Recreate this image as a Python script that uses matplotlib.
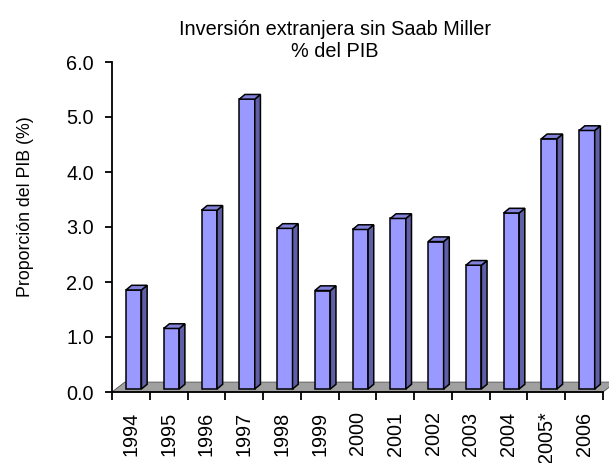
import matplotlib
matplotlib.use("Agg")
import matplotlib.pyplot as plt
from matplotlib.patches import Polygon

plt.rcParams['font.family'] = ['Liberation Sans', 'DejaVu Sans']

categories = ["1994", "1995", "1996", "1997", "1998", "1999", "2000",
              "2001", "2002", "2003", "2004", "2005*", "2006"]
values = [1.8, 1.1, 3.25, 5.27, 2.92, 1.79, 2.9, 3.1, 2.68, 2.25, 3.2, 4.55, 4.7]
yticks = [0, 1, 2, 3, 4, 5, 6]
title_line1 = "Inversión extranjera sin Saab Miller"
title_line2 = "% del PIB"
ylabel = "Proporción del PIB (%)"

W, H = 609, 463
FS = 14.3
fig = plt.figure(figsize=(W / 100, H / 100), dpi=100)
ax = fig.add_axes([112 / W, (H - 392) / H, 491 / W, 330 / H])
n = len(categories)
ax.set_xlim(0, n)
ax.set_ylim(0, 6)

front = "#9999FF"
side = "#5F5FA8"
top = "#8282DA"

# floor
fdx, fdy = 0.34, 0.18
floor = Polygon([(0, 0), (n, 0), (n + fdx, fdy), (fdx, fdy)], closed=True,
                facecolor="#A0A0A0", edgecolor="#505050", lw=0.6,
                clip_on=False, zorder=1)
ax.add_patch(floor)

# bars
base = 0.055
w = 0.41
off = 0.37
dx, dy = 0.15, 0.085
lw = 1.1
for i, v in enumerate(values):
    x0 = i + off
    ax.bar(x0, v, width=w, bottom=base, align="edge", color=front,
           edgecolor="black", lw=lw, zorder=3, clip_on=False)
    ax.add_patch(Polygon([(x0 + w, base), (x0 + w + dx, base + dy),
                          (x0 + w + dx, base + v + dy), (x0 + w, base + v)],
                         closed=True, facecolor=side, edgecolor="black",
                         lw=lw, zorder=3, clip_on=False))
    ax.add_patch(Polygon([(x0, base + v), (x0 + dx, base + v + dy),
                          (x0 + w + dx, base + v + dy), (x0 + w, base + v)],
                         closed=True, facecolor=top, edgecolor="black",
                         lw=lw, zorder=3, clip_on=False))

for s in ["top", "right"]:
    ax.spines[s].set_visible(False)
ax.spines["left"].set_linewidth(1.3)
ax.spines["bottom"].set_linewidth(1.3)
ax.spines["bottom"].set_zorder(2)

ax.set_yticks(yticks)
ax.set_yticklabels([f"{t:.1f}" for t in yticks], fontsize=FS)
ax.tick_params(axis="y", direction="out", length=5, width=1.3, pad=8)

ax.set_xticks(range(n + 1))
ax.set_xticklabels([])
ax.tick_params(axis="x", which="major", direction="out", length=6, width=1.3)
ax.set_xticks([i + 0.5 for i in range(n)], minor=True)
ax.set_xticklabels(categories, minor=True, rotation=90, fontsize=FS)
ax.tick_params(axis="x", which="minor", length=0, pad=14)

fig.text(26 / W, 1 - 207 / H, ylabel, rotation=90, ha="center", va="center",
         fontsize=12.8)
fig.text(335 / W, 1 - 35 / H, title_line1, ha="center", va="baseline",
         fontsize=FS)
fig.text(335 / W, 1 - 57 / H, title_line2, ha="center", va="baseline",
         fontsize=FS)

fig.savefig("out.png", dpi=100)
